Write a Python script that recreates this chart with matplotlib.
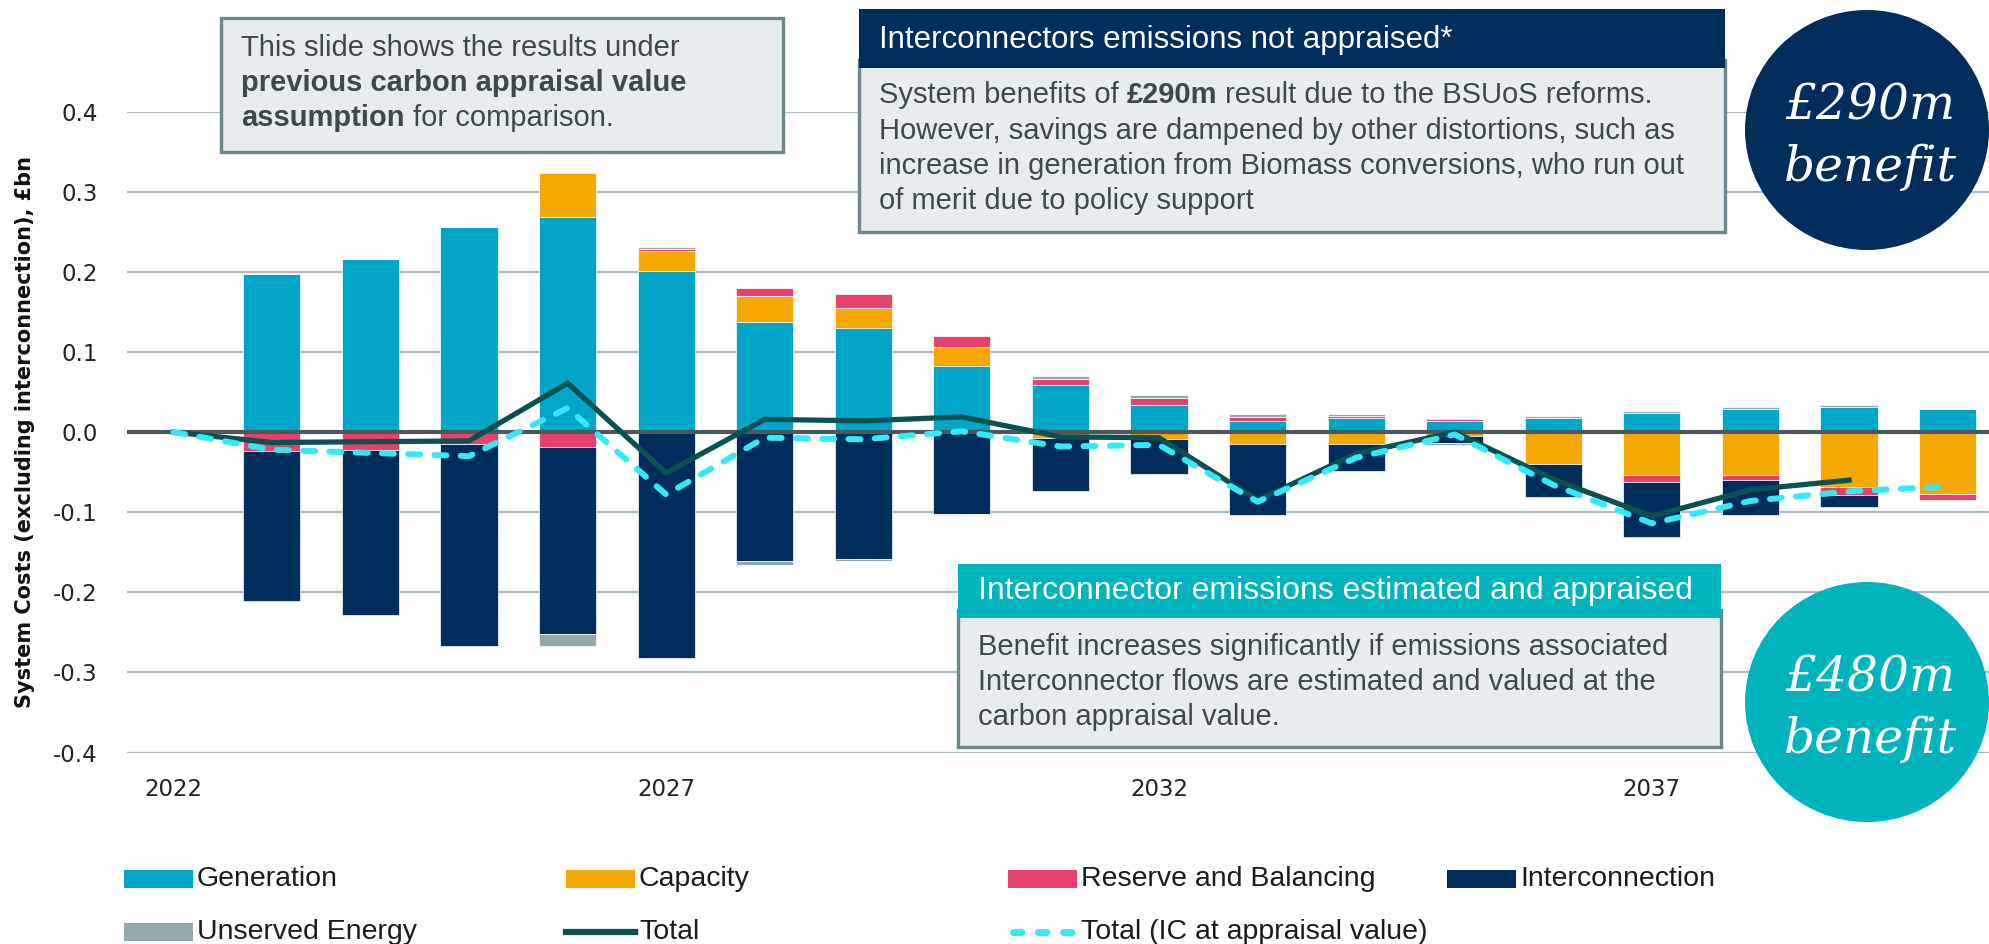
import numpy as np
import matplotlib
matplotlib.use('Agg')
import matplotlib.pyplot as plt
from matplotlib.patches import Rectangle, Ellipse
from matplotlib.lines import Line2D

# bar years and stacked components (£bn)
years = np.arange(2023, 2041)
generation = [0.197, 0.216, 0.256, 0.268, 0.201, 0.138, 0.130, 0.083, 0.059, 0.034,
              0.014, 0.017, 0.014, 0.017, 0.024, 0.029, 0.031, 0.029]
capacity = [0.0, 0.0, 0.0, 0.056, 0.025, 0.032, 0.025, 0.023, -0.007, -0.008,
            -0.015, -0.015, -0.005, -0.040, -0.053, -0.053, -0.069, -0.077]
reserve = [-0.023, -0.022, -0.015, -0.018, 0.002, 0.010, 0.017, 0.014, 0.007, 0.009,
           0.005, 0.0025, 0.0025, 0.0, -0.0095, -0.007, -0.010, -0.0076]
interconnection = [-0.188, -0.206, -0.252, -0.234, -0.282, -0.161, -0.158, -0.1025, -0.067, -0.044,
                   -0.089, -0.034, -0.009, -0.041, -0.068, -0.044, -0.015, 0.0]
unserved = [0.0, 0.0, 0.0, -0.015, 0.003, -0.005, -0.003, -0.0015, 0.0036, 0.003,
            0.003, 0.003, -0.0027, 0.0025, 0.0025, 0.0025, 0.0025, 0.0]

# totals
total_years = np.arange(2022, 2040)
total = [0.0, -0.013, -0.012, -0.011, 0.061, -0.051, 0.016, 0.014, 0.019, -0.006,
         -0.007, -0.085, -0.027, 0.0, -0.059, -0.105, -0.072, -0.060]
total_ic_years = np.arange(2022, 2041)
total_ic = [0.0, -0.022, -0.026, -0.030, 0.030, -0.078, -0.007, -0.009, 0.001, -0.018,
            -0.016, -0.087, -0.032, -0.003, -0.066, -0.114, -0.086, -0.074, -0.068]

series_names = ['Generation', 'Capacity', 'Reserve and Balancing', 'Interconnection', 'Unserved Energy']
series = [generation, capacity, reserve, interconnection, unserved]
colors = ['#00a5c8', '#f5a800', '#e8416e', '#002d5b', '#93a9ae']
y_ticks = [-0.4, -0.3, -0.2, -0.1, 0.0, 0.1, 0.2, 0.3, 0.4]
x_ticks = [2022, 2027, 2032, 2037]

total_color = '#0a5252'
total_ic_color = '#33e9f7'
navy = '#002d5b'
teal = '#00b4be'
box_fc = '#e7ecee'
box_ec = '#6b878c'
box_txt = '#3c4a4f'

W, H = 1990, 944
fig = plt.figure(figsize=(W / 100, H / 100), dpi=100)
ax = fig.add_axes([127 / W, 1 - 752.5 / H, 1 - 127 / W, (752.5 - 111.7) / H])

# stacked bars, positives and negatives stacked separately
pos_bottom = np.zeros(len(years))
neg_bottom = np.zeros(len(years))
for name, vals, col in zip(series_names, series, colors):
    v = np.array(vals)
    bottom = np.where(v >= 0, pos_bottom, neg_bottom)
    ax.bar(years, v, 0.58, bottom=bottom, color=col, edgecolor='white', linewidth=0.5, zorder=2)
    pos_bottom += np.clip(v, 0, None)
    neg_bottom += np.clip(v, None, 0)

ax.axhline(0, color='#4b585c', lw=3, zorder=3)
ax.plot(total_years, total, color=total_color, lw=3.8, zorder=4)
ax.plot(total_ic_years, total_ic, color=total_ic_color, lw=4.3, ls=(0, (2, 2.4)),
        dash_capstyle='round', zorder=5)

ax.set_xlim(2021.53, 2040.43)
ax.set_ylim(-0.4, 0.4)
ax.set_yticks(y_ticks)
ax.set_yticklabels([f'{v:.1f}' for v in y_ticks])
ax.set_xticks(x_ticks)
ax.set_xticklabels([str(v) for v in x_ticks])
ax.tick_params(axis='y', length=0, labelsize=16.5, pad=21, labelcolor='#222222')
ax.tick_params(axis='x', length=0, labelsize=16.5, pad=18, labelcolor='#222222')
for s in ax.spines.values():
    s.set_visible(False)
ax.grid(axis='y', color='#a8bcc1', lw=1.6)
ax.set_axisbelow(True)

fig.text(25 / W, 1 - 432 / H, 'System Costs (excluding interconnection), £bn', rotation=90,
         ha='center', va='center', fontsize=15, fontweight='bold', color='#111111')


def box(x0, y0, x1, y1, fc, ec=None, lw=0):
    fig.patches.append(Rectangle((x0 / W, 1 - y1 / H), (x1 - x0) / W, (y1 - y0) / H,
                                 transform=fig.transFigure, fc=fc,
                                 ec=ec if ec else 'none', lw=lw, zorder=1))


renderer = fig.canvas.get_renderer()


def rich_line(x, y, parts, size, color):
    # parts: list of (text, bold), joined by spaces
    probe = fig.text(0, 0, 'a a', fontsize=size, family='Liberation Sans')
    probe2 = fig.text(0, 0, 'aa', fontsize=size, family='Liberation Sans')
    sp = probe.get_window_extent(renderer).width - probe2.get_window_extent(renderer).width
    probe.remove()
    probe2.remove()
    cur = x
    for txt, bold in parts:
        t = fig.text(cur / W, 1 - y / H, txt, fontsize=size, family='Liberation Sans',
                     fontweight='bold' if bold else 'normal', color=color,
                     ha='left', va='center', zorder=3)
        cur = t.get_window_extent(renderer).x1 + sp


# top-left note
box(221, 18, 783, 152, box_fc, box_ec, 2.4)
rich_line(241, 48, [('This slide shows the results under', False)], 21, box_txt)
rich_line(241, 83, [('previous carbon appraisal value', True)], 21, box_txt)
rich_line(241, 118, [('assumption', True), ('for comparison.', False)], 21, box_txt)

# not appraised box
box(859, 60, 1725, 232, box_fc, box_ec, 2.4)
box(859, 9, 1725, 68, navy)
rich_line(879, 40, [('Interconnectors emissions not appraised*', False)], 22.5, 'white')
rich_line(879, 95, [('System benefits of', False), ('£290m', True),
                    ('result due to the BSUoS reforms.', False)], 21, box_txt)
rich_line(879, 131, [('However, savings are dampened by other distortions, such as', False)], 21, box_txt)
rich_line(879, 166, [('increase in generation from Biomass conversions, who run out', False)], 21, box_txt)
rich_line(879, 201, [('of merit due to policy support', False)], 21, box_txt)

# appraised box
box(958, 610, 1721, 747, box_fc, box_ec, 2.4)
box(958, 564, 1721, 618, teal)
rich_line(978, 591, [('Interconnector emissions estimated and appraised', False)], 23, 'white')
rich_line(978, 647, [('Benefit increases significantly if emissions associated', False)], 21, box_txt)
rich_line(978, 682, [('Interconnector flows are estimated and valued at the', False)], 21, box_txt)
rich_line(978, 717, [('carbon appraisal value.', False)], 21, box_txt)

# benefit circles
for cy, col, label in [(130, navy, '£290m'), (702, teal, '£480m')]:
    fig.patches.append(Ellipse((1867 / W, 1 - cy / H), 244 / W, 240 / H,
                               transform=fig.transFigure, fc=col, ec='none', zorder=1))
    fig.text(1870 / W, 1 - (cy - 24) / H, label, fontsize=35, family='DejaVu Serif',
             style='italic', color='white', ha='center', va='center')
    fig.text(1870 / W, 1 - (cy + 37) / H, 'benefit', fontsize=35, family='DejaVu Serif',
             style='italic', color='white', ha='center', va='center')

# legend
legend_x = [124, 566, 1008, 1447]
legend_y = [879, 932]
slots = [(0, 0), (0, 1), (0, 2), (0, 3), (1, 0)]
for (row, colno), name, col in zip(slots, series_names, colors):
    x, y = legend_x[colno], legend_y[row]
    box(x, y - 9, x + 69, y + 9, col)
    fig.text((x + 73) / W, 1 - y / H, name, fontsize=20.5, family='Liberation Sans',
             color='#1b1b1b', ha='left', va='center')

x, y = legend_x[1], legend_y[1]
fig.add_artist(Line2D([x / W, (x + 69) / W], [1 - y / H] * 2, color=total_color, lw=4.5,
                      transform=fig.transFigure))
fig.text((x + 73) / W, 1 - y / H, 'Total', fontsize=20.5, family='Liberation Sans',
         color='#1b1b1b', ha='left', va='center')
x = legend_x[2]
fig.add_artist(Line2D([(x + 5) / W, (x + 64) / W], [1 - y / H] * 2, color=total_ic_color, lw=5,
                      ls=(0, (1.2, 2.4)), dash_capstyle='round', transform=fig.transFigure))
fig.text((x + 73) / W, 1 - y / H, 'Total (IC at appraisal value)', fontsize=20.5,
         family='Liberation Sans', color='#1b1b1b', ha='left', va='center')

fig.savefig('out.png', dpi=100)
